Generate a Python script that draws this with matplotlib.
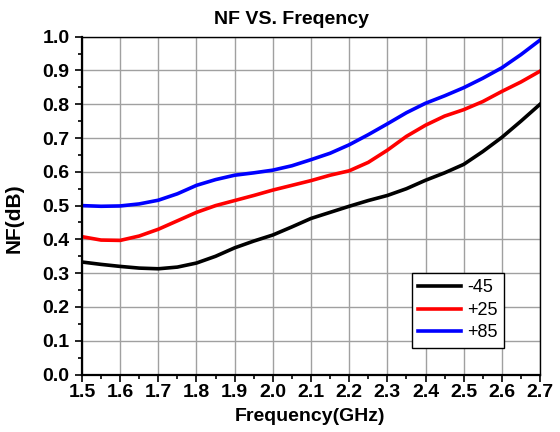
import matplotlib
matplotlib.use('Agg')
import matplotlib.pyplot as plt
from matplotlib.ticker import MultipleLocator, FormatStrFormatter

plt.rcParams['font.family'] = ['Liberation Sans', 'DejaVu Sans']
plt.rcParams['font.weight'] = 'bold'

freq = [1.5, 1.55, 1.6, 1.65, 1.7, 1.75, 1.8, 1.85, 1.9, 1.95, 2.0, 2.05, 2.1,
        2.15, 2.2, 2.25, 2.3, 2.35, 2.4, 2.45, 2.5, 2.55, 2.6, 2.65, 2.7]
nf_m45 = [0.333, 0.326, 0.320, 0.315, 0.313, 0.318, 0.330, 0.350, 0.375, 0.395,
          0.413, 0.437, 0.462, 0.480, 0.498, 0.515, 0.530, 0.550, 0.575, 0.597,
          0.622, 0.660, 0.702, 0.750, 0.800]
nf_p25 = [0.408, 0.398, 0.397, 0.410, 0.430, 0.455, 0.480, 0.500, 0.515, 0.530,
          0.546, 0.560, 0.574, 0.590, 0.603, 0.628, 0.664, 0.705, 0.738, 0.765,
          0.784, 0.808, 0.838, 0.866, 0.898]
nf_p85 = [0.500, 0.498, 0.499, 0.505, 0.516, 0.535, 0.560, 0.577, 0.590, 0.597,
          0.605, 0.618, 0.636, 0.655, 0.680, 0.710, 0.742, 0.775, 0.803, 0.825,
          0.849, 0.877, 0.908, 0.947, 0.990]
labels = ['-45', '+25', '+85']
colors = ['black', 'red', 'blue']

fig = plt.figure(figsize=(5.6, 4.32), dpi=100)
ax = fig.add_axes([0.1464, 0.1331, 0.8179, 0.7819])

for ys, lab, c in zip([nf_m45, nf_p25, nf_p85], labels, colors):
    ax.plot(freq, ys, color=c, lw=2.6, label=lab)

ax.set_xlim(1.5, 2.7)
ax.set_ylim(0.0, 1.0)
ax.xaxis.set_major_locator(MultipleLocator(0.1))
ax.xaxis.set_minor_locator(MultipleLocator(0.05))
ax.yaxis.set_major_locator(MultipleLocator(0.1))
ax.yaxis.set_minor_locator(MultipleLocator(0.05))
ax.xaxis.set_major_formatter(FormatStrFormatter('%.1f'))
ax.yaxis.set_major_formatter(FormatStrFormatter('%.1f'))
ax.grid(True, which='major', color='#a0a0a0', lw=1.0)
ax.set_axisbelow(True)

ax.tick_params(which='both', direction='out', top=False, right=False, width=1.2)
ax.tick_params(which='major', length=5, labelsize=14)
ax.tick_params(axis='y', which='major', pad=4)
ax.tick_params(axis='x', which='major', pad=2)
ax.tick_params(which='minor', length=3)

for side in ['left', 'bottom']:
    ax.spines[side].set_linewidth(1.6)
for side in ['top', 'right']:
    ax.spines[side].set_linewidth(1.0)

ax.set_title('NF VS. Freqency', fontsize=14, fontweight='bold', pad=9, x=0.4585)
ax.set_xlabel('Frequency(GHz)', fontsize=14, fontweight='bold')
ax.set_ylabel('NF(dB)', fontsize=15, fontweight='bold')
ax.xaxis.set_label_coords(0.497, -0.099, transform=ax.transAxes)
ax.yaxis.set_label_coords(-0.127, 0.463)

leg = ax.legend(loc='upper left', bbox_to_anchor=(0.72, 0.30), borderaxespad=0,
                prop={'size': 13, 'weight': 'normal'}, fancybox=False,
                framealpha=1, edgecolor='black', handlelength=2.4,
                handletextpad=0.3, labelspacing=0.3, borderpad=0.35)
leg.get_frame().set_linewidth(1.0)

fig.savefig('out.png', dpi=100)
